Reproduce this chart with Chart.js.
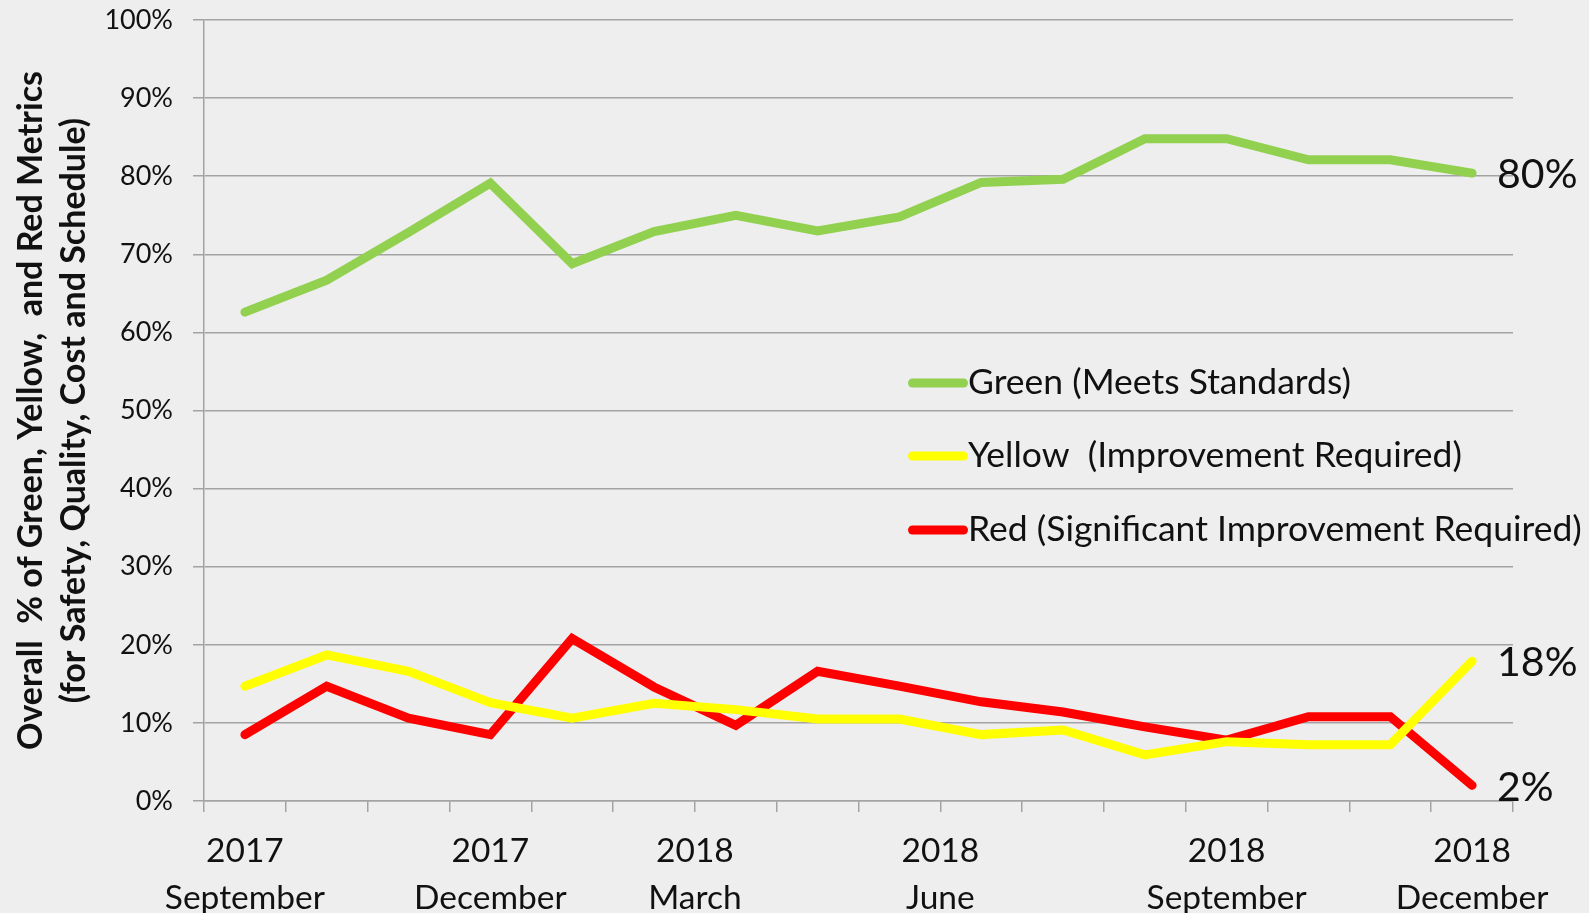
<!DOCTYPE html>
<html>
<head>
<meta charset="utf-8">
<script src="https://cdn.jsdelivr.net/npm/chart.js@4/dist/chart.umd.min.js"></script>
<style>
	html, body { margin: 0; padding: 0; background: #eeeeee; }
	#wrap { position: relative; width: 1589px; height: 913px; }
</style>
</head>
<body>
<div id="wrap"><canvas id="myChart"></canvas></div>
<script>
// one point per month, Sep 2017 .. Dec 2018
const months = ["Sep 2017", "Oct 2017", "Nov 2017", "Dec 2017", "Jan 2018", "Feb 2018",
	"Mar 2018", "Apr 2018", "May 2018", "Jun 2018", "Jul 2018", "Aug 2018",
	"Sep 2018", "Oct 2018", "Nov 2018", "Dec 2018"];

const greenValues  = [62.6, 66.7, 72.8, 79.1, 68.8, 72.9, 75.0, 73.0, 74.8, 79.2, 79.6, 84.8, 84.8, 82.1, 82.1, 80.4];
const yellowValues = [14.7, 18.7, 16.6, 12.6, 10.6, 12.5, 11.7, 10.5, 10.5, 8.5, 9.1, 5.9, 7.6, 7.2, 7.2, 17.9];
const redValues    = [8.5, 14.7, 10.6, 8.5, 20.8, 14.6, 9.7, 16.6, 14.7, 12.7, 11.4, 9.5, 7.8, 10.8, 10.8, 2.0];

const seriesNames = ["Green (Meets Standards)", "Yellow  (Improvement Required)", "Red (Significant Improvement Required)"];

// x labels sit at these (fractional) month indexes
const tickLabelPositions = [0, 3, 5.5, 8.5, 12, 15];
const tickLabelYears  = ["2017", "2017", "2018", "2018", "2018", "2018"];
const tickLabelMonths = ["September", "December", "March", "June", "September", "December"];

const yTitle = ["Overall  % of Green, Yellow,  and Red Metrics", "(for Safety, Quality, Cost and Schedule)"];

const GRID = "#a3a3a3";
const TEXT = "#111111";

// legend inside the plot + end-of-line value labels
const overlay = {
	id: "overlay",
	afterDatasetsDraw(chart) {
		const ctx = chart.ctx;
		const area = chart.chartArea;
		ctx.save();
		// legend
		const lx = area.left + 704;
		const rows = [363, 436, 510];
		chart.data.datasets.forEach((ds, i) => {
			const y = area.top + rows[i];
			ctx.strokeStyle = ds.borderColor;
			ctx.lineWidth = 9;
			ctx.lineCap = "round";
			ctx.beginPath();
			ctx.moveTo(lx + 4.5, y);
			ctx.lineTo(lx + 55.5, y);
			ctx.stroke();
			ctx.fillStyle = TEXT;
			ctx.font = "35.5px Lato";
			ctx.textBaseline = "middle";
			ctx.textAlign = "left";
			ctx.fillText(ds.label, lx + 60, y);
		});
		// last value labels
		chart.data.datasets.forEach((ds, i) => {
			const meta = chart.getDatasetMeta(i);
			const pt = meta.data[meta.data.length - 1];
			const v = ds.data[ds.data.length - 1];
			ctx.fillStyle = TEXT;
			ctx.font = "41px Lato";
			ctx.textBaseline = "middle";
			ctx.textAlign = "left";
			ctx.fillText(Math.round(v) + "%", pt.x + 25, pt.y + 2);
		});
		ctx.restore();
	}
};

function lineSet(label, data, color){
	return {
		label: label,
		data: data,
		borderColor: color,
		backgroundColor: color,
		borderWidth: 9,
		borderCapStyle: "round",
		pointRadius: 0,
		tension: 0,
		xAxisID: "x",
		yAxisID: "y"
	};
}

const chart = new Chart(document.getElementById("myChart"), {
	type: "line",
	data: {
		labels: months,
		datasets: [
			lineSet(seriesNames[0], greenValues, "#92d050"),
			lineSet(seriesNames[1], yellowValues, "#ffff00"),
			lineSet(seriesNames[2], redValues, "#ff0000")
		]
	},
	options: {
		responsive: true,
		maintainAspectRatio: false,
		animation: false,
		layout: { padding: { top: 20, right: 76, bottom: 0, left: 0 } },
		plugins: {
			legend: { display: false },
			tooltip: { enabled: false }
		},
		scales: {
			x: {
				type: "category",
				position: "bottom",
				weight: 0,
				offset: true,
				grid: { offset: true, drawOnChartArea: false, drawTicks: true, tickLength: 11, color: GRID, lineWidth: 1.5 },
				border: { color: GRID, width: 1.5 },
				ticks: { display: false },
				afterFit(scale) { scale.height = 11; }
			},
			x2: {
				type: "linear",
				position: "bottom",
				weight: 1,
				min: -0.5,
				max: 15.5,
				grid: { display: false },
				border: { display: false },
				afterBuildTicks(scale) {
					scale.ticks = tickLabelPositions.map(v => ({ value: v }));
				},
				ticks: {
					autoSkip: false,
					maxRotation: 0,
					padding: 7,
					color: TEXT,
					font: { family: "Lato", size: 33.5, lineHeight: 1.42 },
					callback(value) {
						const i = tickLabelPositions.indexOf(value);
						return i < 0 ? "" : [tickLabelYears[i], tickLabelMonths[i]];
					}
				},
				afterFit(scale) { scale.height = 101; }
			},
			y: {
				min: 0,
				max: 100,
				grid: { color: GRID, lineWidth: 1.5, drawTicks: true, tickLength: 11 },
				border: { color: GRID, width: 1.5 },
				ticks: {
					stepSize: 10,
					padding: 20,
					color: TEXT,
					font: { family: "Lato", size: 27 },
					callback: v => v + "%"
				},
				title: {
					display: true,
					text: yTitle,
					color: TEXT,
					font: { family: "Lato", size: 34, weight: "bold", lineHeight: 1.27 },
					padding: { top: 9, bottom: 0 }
				},
				afterFit(scale) {
					scale.width = 204;
					// tick padding gets added to the top padding, drop it
					scale.paddingTop = 0;
					scale.paddingBottom = 0;
				}
			}
		}
	},
	plugins: [overlay]
});
</script>
</body>
</html>
